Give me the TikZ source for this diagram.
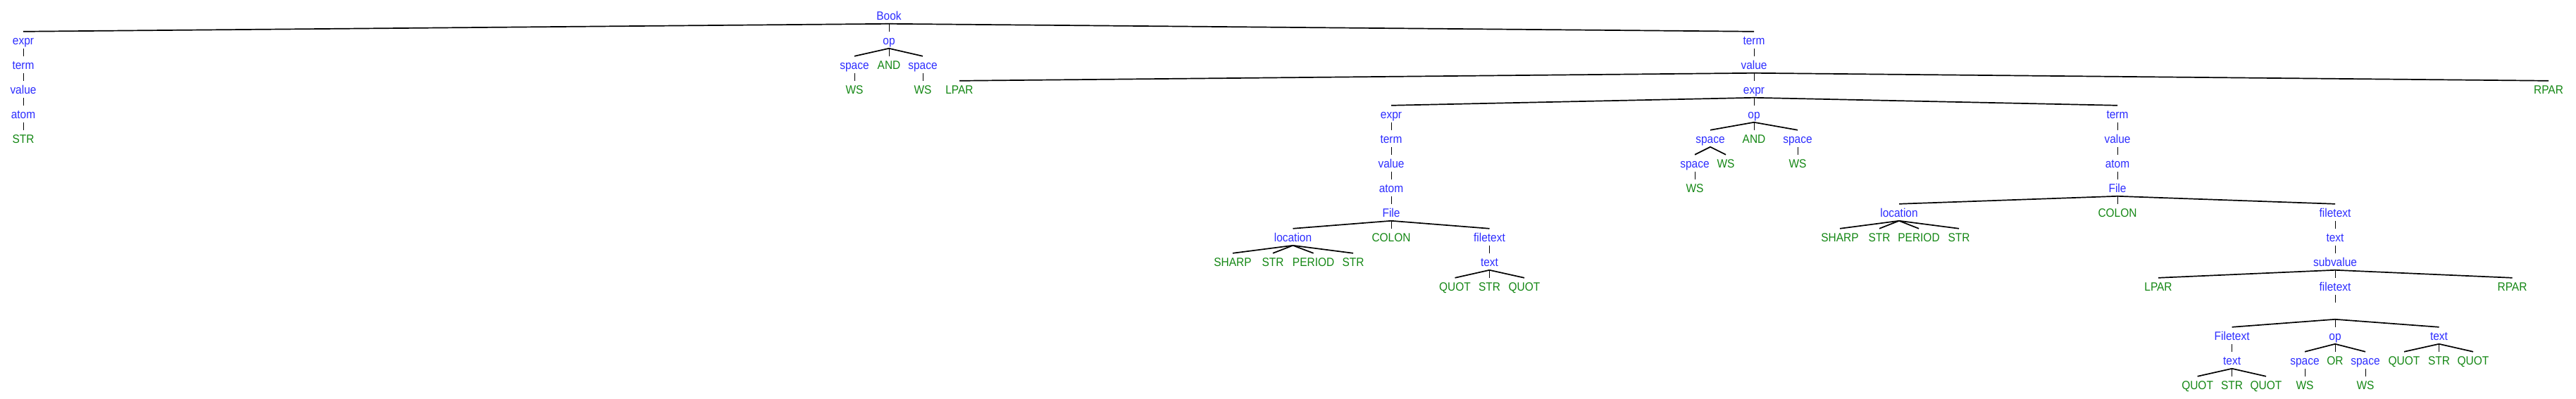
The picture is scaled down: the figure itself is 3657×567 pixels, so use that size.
\documentclass[tikz,border=0pt]{standalone}
\usepackage{fontspec}
\setmainfont{Liberation Sans}[FakeStretch=0.91]
\definecolor{ntblue}{RGB}{45,45,255}
\definecolor{tmgreen}{RGB}{20,135,20}
\newcommand\mythick[2]{\draw[thickedge] ([yshift=-5.5pt]#1.base) -- ([yshift=18.5pt]#2.base);}
\newcommand\mythin[2]{\draw[thinedge] ([yshift=-5.5pt]#1.base) -- ([yshift=18.5pt]#2.base);}
\begin{document}
\begin{tikzpicture}[x=1pt,y=1pt,
  nt/.style={anchor=base,text=ntblue,inner sep=0pt,font=\fontsize{17}{20}\selectfont},
  tm/.style={anchor=base,text=tmgreen,inner sep=0pt,font=\fontsize{17}{20}\selectfont},
  thickedge/.style={draw=black,line width=1.7pt},
  thinedge/.style={draw=black,line width=0.9pt}]
\useasboundingbox (0,0) rectangle (3657,-567);
% row 0
\node[nt] (Book) at (1262,-28.3) {Book};
% row 1
\node[nt] (expr1) at (33,-63.3) {expr};
\node[nt] (op1) at (1262,-63.3) {op};
\node[nt] (term1) at (2490,-63.3) {term};
% row 2
\node[nt] (term2) at (33,-98.3) {term};
\node[nt] (space2a) at (1213,-98.3) {space};
\node[tm] (AND2) at (1262,-98.3) {AND};
\node[nt] (space2b) at (1310,-98.3) {space};
\node[nt] (value2) at (2490,-98.3) {value};
% row 3
\node[nt] (value3) at (33,-133.3) {value};
\node[tm] (WS3a) at (1213,-133.3) {WS};
\node[tm] (WS3b) at (1310,-133.3) {WS};
\node[tm] (LPAR3) at (1362,-133.3) {LPAR};
\node[nt] (expr3) at (2490,-133.3) {expr};
\node[tm] (RPAR3) at (3618,-133.3) {RPAR};
% row 4
\node[nt] (atom4) at (33,-168.3) {atom};
\node[nt] (expr4) at (1975,-168.3) {expr};
\node[nt] (op4) at (2490,-168.3) {op};
\node[nt] (term4) at (3006,-168.3) {term};
% row 5
\node[tm] (STR5) at (33,-203.3) {STR};
\node[nt] (term5) at (1975,-203.3) {term};
\node[nt] (space5a) at (2428,-203.3) {space};
\node[tm] (AND5) at (2490,-203.3) {AND};
\node[nt] (space5b) at (2552,-203.3) {space};
\node[nt] (value5) at (3006,-203.3) {value};
% row 6
\node[nt] (value6) at (1975,-238.3) {value};
\node[nt] (space6) at (2406,-238.3) {space};
\node[tm] (WS6a) at (2450,-238.3) {WS};
\node[tm] (WS6b) at (2552,-238.3) {WS};
\node[nt] (atom6) at (3006,-238.3) {atom};
% row 7
\node[nt] (atom7) at (1975,-273.3) {atom};
\node[tm] (WS7) at (2406,-273.3) {WS};
\node[nt] (File7) at (3006,-273.3) {File};
% row 8
\node[nt] (File8) at (1975,-308.3) {File};
\node[nt] (location8) at (2696,-308.3) {location};
\node[tm] (COLON8) at (3006,-308.3) {COLON};
\node[nt] (filetext8) at (3315,-308.3) {filetext};
% row 9
\node[nt] (location9) at (1835.5,-343.3) {location};
\node[tm] (COLON9) at (1975,-343.3) {COLON};
\node[nt] (filetext9) at (2114.5,-343.3) {filetext};
\node[tm] (SHARP9) at (2612,-343.3) {SHARP};
\node[tm] (STR9a) at (2668,-343.3) {STR};
\node[tm] (PERIOD9) at (2724,-343.3) {PERIOD};
\node[tm] (STR9b) at (2781,-343.3) {STR};
\node[nt] (text9) at (3315,-343.3) {text};
% row 10
\node[tm] (SHARP10) at (1750,-378.3) {SHARP};
\node[tm] (STR10a) at (1807,-378.3) {STR};
\node[tm] (PERIOD10) at (1864.6,-378.3) {PERIOD};
\node[tm] (STR10b) at (1921,-378.3) {STR};
\node[nt] (text10) at (2114.5,-378.3) {text};
\node[nt] (subvalue10) at (3315,-378.3) {subvalue};
% row 11
\node[tm] (QUOT11a) at (2065.5,-413.3) {QUOT};
\node[tm] (STR11) at (2114.5,-413.3) {STR};
\node[tm] (QUOT11b) at (2164,-413.3) {QUOT};
\node[tm] (LPAR11) at (3064,-413.3) {LPAR};
\node[nt] (filetext11) at (3315,-413.3) {filetext};
\node[tm] (RPAR11) at (3566.5,-413.3) {RPAR};
% row 12 (empty)
\node[nt] (e12) at (3315,-448.3) {};
% row 13
\node[nt] (Filetext13) at (3168.6,-483.3) {Filetext};
\node[nt] (op13) at (3315,-483.3) {op};
\node[nt] (text13) at (3462.5,-483.3) {text};
% row 14
\node[nt] (text14) at (3168.6,-518.3) {text};
\node[nt] (space14a) at (3272,-518.3) {space};
\node[tm] (OR14) at (3315,-518.3) {OR};
\node[nt] (space14b) at (3358,-518.3) {space};
\node[tm] (QUOT14a) at (3413,-518.3) {QUOT};
\node[tm] (STR14) at (3462.5,-518.3) {STR};
\node[tm] (QUOT14b) at (3511,-518.3) {QUOT};
% row 15
\node[tm] (QUOT15a) at (3119.6,-553.3) {QUOT};
\node[tm] (STR15) at (3168.6,-553.3) {STR};
\node[tm] (QUOT15b) at (3217,-553.3) {QUOT};
\node[tm] (WS15a) at (3272,-553.3) {WS};
\node[tm] (WS15b) at (3358,-553.3) {WS};
% thin stems
\mythin{Book}{op1}
\mythin{expr1}{term2}
\mythin{term2}{value3}
\mythin{value3}{atom4}
\mythin{atom4}{STR5}
\mythin{op1}{AND2}
\mythin{space2a}{WS3a}
\mythin{space2b}{WS3b}
\mythin{term1}{value2}
\mythin{value2}{expr3}
\mythin{expr3}{op4}
\mythin{op4}{AND5}
\mythin{space5b}{WS6b}
\mythin{term4}{value5}
\mythin{value5}{atom6}
\mythin{atom6}{File7}
\mythin{File7}{COLON8}
\mythin{expr4}{term5}
\mythin{term5}{value6}
\mythin{value6}{atom7}
\mythin{atom7}{File8}
\mythin{File8}{COLON9}
\mythin{space6}{WS7}
\mythin{filetext8}{text9}
\mythin{text9}{subvalue10}
\mythin{subvalue10}{filetext11}
\mythin{filetext9}{text10}
\mythin{text10}{STR11}
\mythin{filetext11}{e12}
\mythin{e12}{op13}
\mythin{Filetext13}{text14}
\mythin{op13}{OR14}
\mythin{text13}{STR14}
\mythin{text14}{STR15}
\mythin{space14a}{WS15a}
\mythin{space14b}{WS15b}
% thick branches
\mythick{Book}{expr1}
\mythick{Book}{term1}
\mythick{op1}{space2a}
\mythick{op1}{space2b}
\mythick{value2}{LPAR3}
\mythick{value2}{RPAR3}
\mythick{expr3}{expr4}
\mythick{expr3}{term4}
\mythick{op4}{space5a}
\mythick{op4}{space5b}
\mythick{space5a}{space6}
\mythick{space5a}{WS6a}
\mythick{File7}{location8}
\mythick{File7}{filetext8}
\mythick{location8}{SHARP9}
\mythick{location8}{STR9a}
\mythick{location8}{PERIOD9}
\mythick{location8}{STR9b}
\mythick{File8}{location9}
\mythick{File8}{filetext9}
\mythick{location9}{SHARP10}
\mythick{location9}{STR10a}
\mythick{location9}{PERIOD10}
\mythick{location9}{STR10b}
\mythick{text10}{QUOT11a}
\mythick{text10}{QUOT11b}
\mythick{subvalue10}{LPAR11}
\mythick{subvalue10}{RPAR11}
\mythick{e12}{Filetext13}
\mythick{e12}{text13}
\mythick{op13}{space14a}
\mythick{op13}{space14b}
\mythick{text13}{QUOT14a}
\mythick{text13}{QUOT14b}
\mythick{text14}{QUOT15a}
\mythick{text14}{QUOT15b}
\end{tikzpicture}
\end{document}
